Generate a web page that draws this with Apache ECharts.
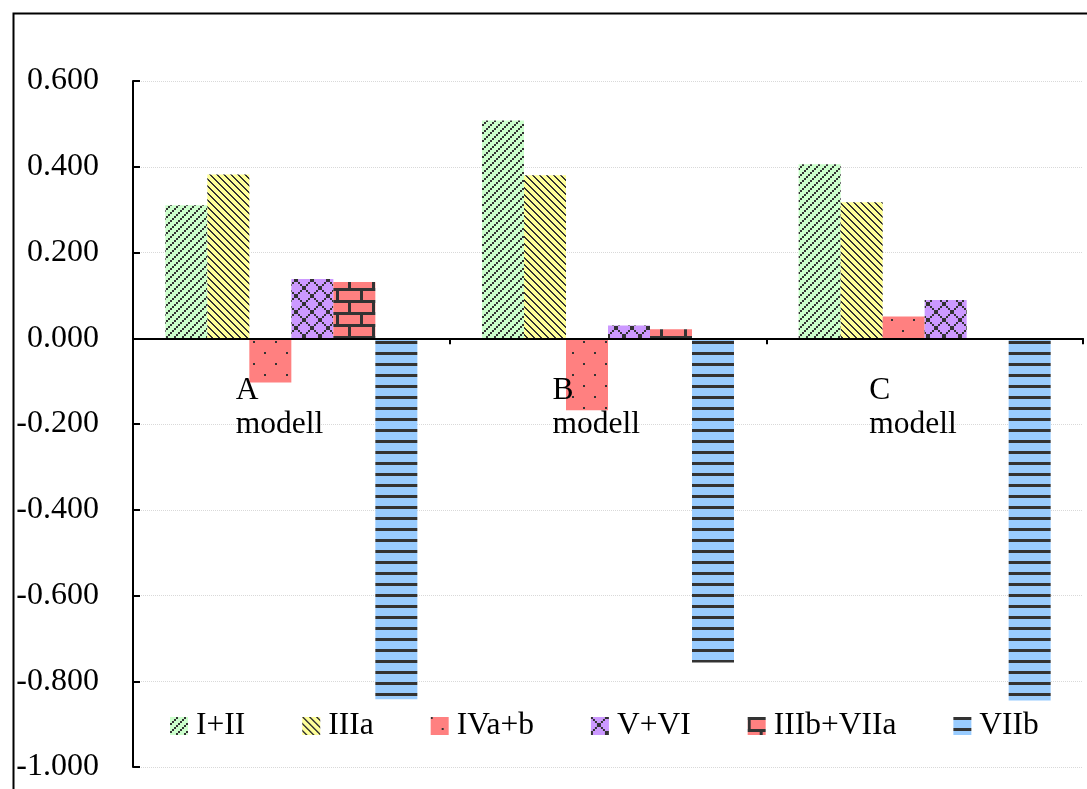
<!DOCTYPE html>
<html>
<head>
<meta charset="utf-8">
<script src="https://cdn.jsdelivr.net/npm/echarts@6/dist/echarts.min.js"></script>
<style>
html,body{margin:0;padding:0;background:#fff;}
#c{width:1087px;height:789px;}
</style>
</head>
<body>
<div id="c"></div>
<script>
// ---- data ----
const categories = ['A\nmodell', 'B\nmodell', 'C\nmodell'];
const seriesNames = ['I+II', 'IIIa', 'IVa+b', 'V+VI', 'IIIb+VIIa', 'VIIb'];
const vI_II      = [0.310, 0.508, 0.406];
const vIIIa      = [0.382, 0.380, 0.317];
const vIVab      = [-0.103, -0.168, 0.051];
const vV_VI      = [0.138, 0.030, 0.089];
const vIIIb_VIIa = [0.131, 0.021, 0.000];
const vVIIb      = [-0.842, -0.756, -0.845];
const yTicks = { min: -1.0, max: 0.6, interval: 0.2 };

// ---- patterns ----
const INK = '#333333';
function tile(w, h, bg, draw) {
  const c = document.createElement('canvas');
  c.width = w; c.height = h;
  const g = c.getContext('2d');
  g.fillStyle = bg; g.fillRect(0, 0, w, h);
  g.fillStyle = INK;
  draw(g);
  return { image: c, repeat: 'repeat' };
}
const patI_II = tile(8, 8, '#ccffcc', g => {
  g.fillRect(6, 0, 2, 2); g.fillRect(4, 2, 2, 2); g.fillRect(2, 4, 2, 2); g.fillRect(0, 6, 2, 2);
});
const patIIIa = tile(7, 7, '#ffff99', g => {
  for (let i = 0; i < 7; i++) { g.fillRect(i, i, 2, 1); if (i === 6) g.fillRect(0, 6, 1, 1); }
});
const patIVab = tile(22, 22, '#ff8080', g => {
  g.fillRect(0, 0, 2, 2); g.fillRect(11, 11, 2, 2);
});
const patV_VI = tile(16, 16, '#cc99ff', g => {
  for (let i = 0; i < 8; i++) { g.fillRect(2 * i, 2 * i, 2, 2); g.fillRect(14 - 2 * i, 2 * i, 2, 2); }
});
const patIIIb = tile(24, 24, '#ff8080', g => {
  g.fillRect(0, 0, 24, 3); g.fillRect(0, 12, 24, 3);
  g.fillRect(0, 3, 3, 9); g.fillRect(12, 15, 3, 9);
});
const patVIIb = tile(4, 11, '#99ccff', g => {
  g.fillRect(0, 0, 4, 3);
});

const FONT = '"Liberation Serif", "Times New Roman", serif';
const FS = 32;

function bar(name, data, pat) {
  return {
    name, type: 'bar', data, barWidth: 42, barGap: '0%',
    itemStyle: { color: pat, borderWidth: 0 },
    emphasis: { disabled: true }
  };
}

const chart = echarts.init(document.getElementById('c'), null, { renderer: 'canvas' });
chart.setOption({
  animation: false,
  backgroundColor: '#ffffff',
  textStyle: { fontFamily: FONT },
  graphic: [{
    type: 'rect', left: 11, top: 11, z: 100, silent: true,
    shape: { x: 0, y: 0, width: 1100, height: 820 },
    style: { fill: null, stroke: '#000', lineWidth: 2 }
  }],
  grid: { left: 133, right: 4, top: 81, bottom: 22, containLabel: false, outerBoundsMode: 'none' },
  legend: {
    left: 170, top: 709, padding: 0, icon: 'rect', itemWidth: 18, itemHeight: 18, itemGap: 57,
    data: seriesNames,
    textStyle: { fontFamily: FONT, fontSize: 31.5, color: '#000', padding: [0, 0, 0, 3], lineHeight: 34 }
  },
  xAxis: {
    type: 'category', data: categories, z: 5, position: 'bottom', offset: 0,
    axisLine: { onZero: false, lineStyle: { color: '#000', width: 2 } },
    axisTick: { show: true, length: 6, lineStyle: { color: '#000', width: 2 } },
    splitLine: { show: false },
    axisLabel: {
      interval: 0, margin: 35, align: 'center',
      formatter: v => v.split('\n').map(s => '{a|' + s + '}').join('\n'),
      rich: { a: { width: 111, align: 'left', fontSize: 31.5, fontFamily: FONT, lineHeight: 34, color: '#000' } }
    }
  },
  yAxis: {
    type: 'value', min: yTicks.min, max: yTicks.max, interval: yTicks.interval,
    axisLine: { show: true, lineStyle: { color: '#000', width: 2 } },
    axisTick: { show: true, inside: true, length: 7, lineStyle: { color: '#000', width: 2 } },
    splitLine: { show: true, lineStyle: { color: '#d9d9d9', type: 'dotted', width: 1 } },
    axisLabel: {
      margin: 34, fontSize: FS, fontFamily: FONT, color: '#000',
      formatter: v => v.toFixed(3)
    }
  },
  series: [
    bar(seriesNames[0], vI_II, patI_II),
    bar(seriesNames[1], vIIIa, patIIIa),
    bar(seriesNames[2], vIVab, patIVab),
    bar(seriesNames[3], vV_VI, patV_VI),
    bar(seriesNames[4], vIIIb_VIIa, patIIIb),
    bar(seriesNames[5], vVIIb, patVIIb)
  ]
});
// move the category axis (line, ticks, labels) up to the zero value, via the value scale
const yBottom = chart.convertToPixel({ yAxisIndex: 0 }, yTicks.min);
const yZero = chart.convertToPixel({ yAxisIndex: 0 }, 0);
chart.setOption({ xAxis: { offset: -(yBottom - yZero) } });
</script>
</body>
</html>
